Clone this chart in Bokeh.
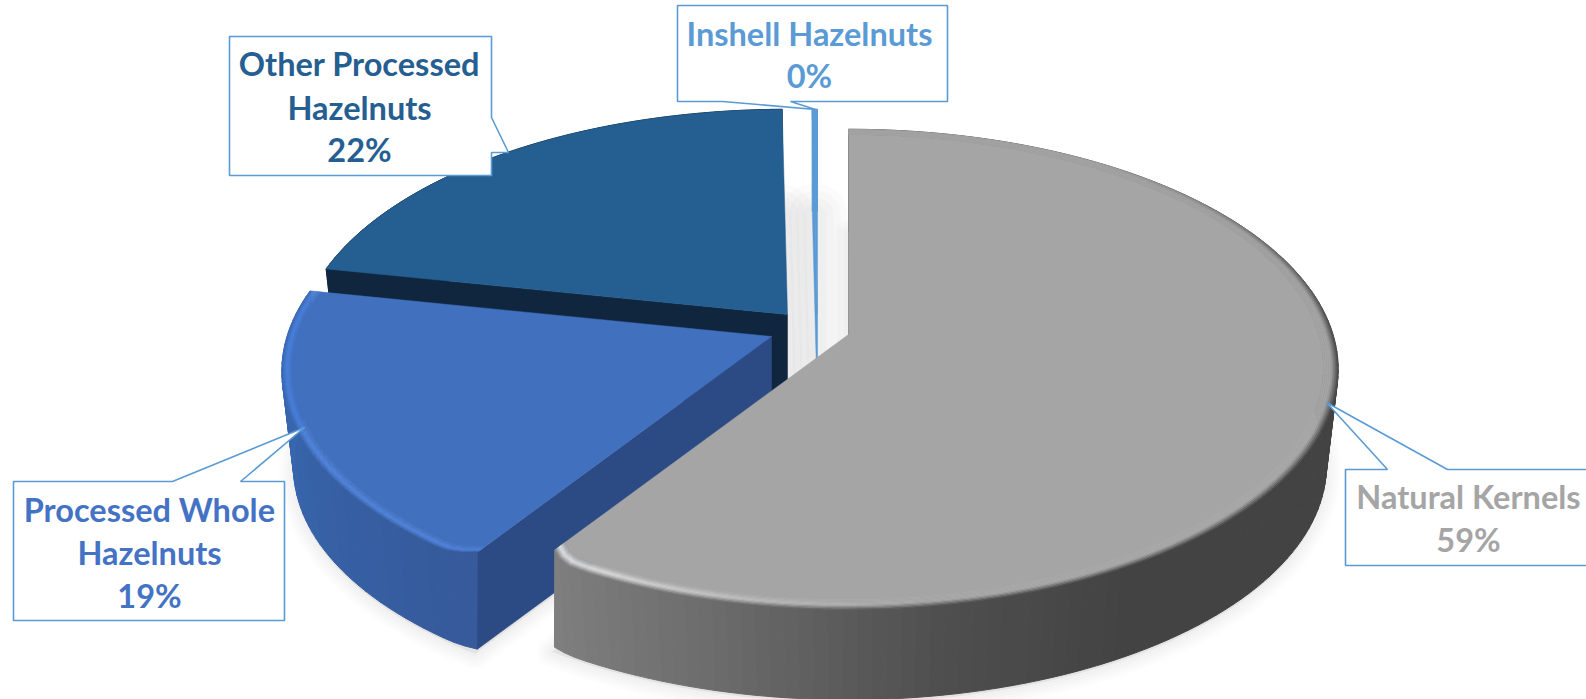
import math
from bokeh.plotting import figure
from bokeh.core.properties import value
from bokeh.embed import file_html
from bokeh.resources import INLINE

# ---- data ----
categories = ["Natural Kernels", "Processed Whole Hazelnuts", "Other Processed Hazelnuts", "Inshell Hazelnuts"]
shares = [59.3, 18.9, 21.6, 0.2]
percent_labels = ["59%", "19%", "22%", "0%"]
label_lines = [["Natural Kernels", "59%"], ["Processed Whole", "Hazelnuts", "19%"],
               ["Other Processed", "Hazelnuts", "22%"], ["Inshell Hazelnuts", "0%"]]

# ---- styles ----
face_colors = ["#a5a5a5", "#4170bf", "#255e91", "#5b9bd5"]
radial_colors = ["#3d3d3d", "#2c4b85", "#10263f", "#5b9bd5"]
text_colors = ["#a5a5a5", "#4472c4", "#255e91", "#5b9bd5"]
BORDER = "#5b9bd5"

# ---- layout of the 3D projection (reference pixels) ----
R, S, K = 484.5, 235.0, 0.145
DEPTH, BOTTOM_SCALE = 97.0, 0.976
centers = [(848, 334), (771, 336), (787, 314), (817, 314)]
rim_widths = [0.03, 0.022, 0.0, 0.0]
callouts = [
    [(1345, 469), (1387, 469), (1326, 402), (1447, 469), (1600, 469), (1600, 565), (1345, 565)],
    [(13, 481), (172, 481), (304, 427), (240, 481), (284, 481), (284, 620), (13, 620)],
    [(229, 36), (491, 36), (491, 117), (508, 152), (491, 152), (491, 175), (229, 175)],
    [(677, 5), (947, 5), (947, 101), (790, 101), (815, 109), (722, 101), (677, 101)],
]
label_pos = [(1468, [496, 539]), (149, [509, 552, 595]), (359, [63, 107, 149]), (809, [33, 75])]

p = figure(width=1586, height=699, x_range=(0, 1586), y_range=(699, 0),
           x_axis_location=None, y_axis_location=None, toolbar_location=None,
           output_backend="svg", min_border=0, outline_line_color=None,
           background_fill_color="white", border_fill_color="white")
p.grid.visible = False

CORNER_DEG, TOP_CUT, BOTTOM_CUT = 4.0, 0.03, 0.008
CORNER_ANGLE = sum(shares[:1]) * 360 / sum(shares)


def pt(c, theta, r=1.0, level=0.0):
    u, v = math.sin(math.radians(theta)) * r, math.cos(math.radians(theta)) * r
    w = 1 + K * v
    s = 1 - (1 - BOTTOM_SCALE) * level
    return c[0] + s * R * u / w, c[1] + DEPTH * level - s * S * v / w


def cut(theta, amount=TOP_CUT):
    """Rounded shoulder of the slice next to the front corner."""
    d = abs(theta - CORNER_ANGLE)
    return 1 - amount * (1 - d / CORNER_DEG) ** 2 if d < CORNER_DEG else 1.0


def hex2(c):
    return [int(c[i:i + 2], 16) for i in (1, 3, 5)]


def mix(a, b, t):
    t = max(0.0, min(1.0, t))
    A, B = hex2(a), hex2(b)
    return "#%02x%02x%02x" % tuple(round(A[i] + (B[i] - A[i]) * t) for i in range(3))


def stops(table, th):
    if th <= table[0][0]:
        return table[0][1]
    for (a, ca), (b, cb) in zip(table, table[1:]):
        if th <= b:
            return mix(ca, cb, (th - a) / (b - a))
    return table[-1][1]


side_tables = [
    [(150, "#434343"), (170, "#4e4e4e"), (196, "#6e6e6e"), (214, "#808080")],
    [(214, "#365a9b"), (260, "#3766ae"), (282, "#3b6ab5")],
    [(282, "#10263f"), (360, "#10263f")],
    [(359, "#5b9bd5"), (360, "#5b9bd5")],
]


def rim_color(i, th, f):
    face = face_colors[i]
    side = stops(side_tables[i], th)
    if i == 0:
        h = 0.75 * max(0.0, (th - 172) / 42.0) ** 1.3
        mid = mix(face, "#ffffff", h)
        d = max(0.0, min(1.0, (th - 35) / 55.0))
        out = mix(face, side, d)
    else:
        mid, out = "#4a80dc", side
    return mix(face, mid, f * 2) if f < 0.5 else mix(mid, out, (f - 0.5) * 2)


angles = []
run = 0.0
total = sum(shares)
for s_ in shares:
    angles.append((run * 360 / total, (run + s_) * 360 / total))
    run += s_


def arc(a, b, step=1.5):
    n = max(2, int(math.ceil((b - a) / step)))
    return [a + (b - a) * j / n for j in range(n + 1)]


# soft ground shadow
for i, (a, b) in enumerate(angles):
    c = centers[i]
    layers = [(60, 0.022), (46, 0.022), (32, 0.022), (18, 0.022)] if i >= 2 else \
             [(30, 0.012), (24, 0.014), (18, 0.016), (12, 0.018), (6, 0.02)]
    for lw, alpha in layers:
        pts = [pt(c, t, 1.0, 1.03) for t in arc(a, b)] + [pt(c, 0, 0.0, 1.03)]
        p.patch([q[0] for q in pts], [q[1] for q in pts], fill_color="#555555", fill_alpha=alpha,
                line_color="#555555", line_alpha=alpha, line_width=lw, line_join="round")

# slices: back ones first
for i in [2, 3, 1, 0]:
    a, b = angles[i]
    c = centers[i]
    th = arc(a, b)
    rnd = cut if i < 2 else (lambda t, amount=0: 1.0)
    # outer wall
    xs, ys, cols = [], [], []
    for t0, t1 in zip(th, th[1:]):
        q = [pt(c, t0, rnd(t0)), pt(c, t1, rnd(t1)),
             pt(c, t1, rnd(t1, BOTTOM_CUT), 1), pt(c, t0, rnd(t0, BOTTOM_CUT), 1)]
        xs.append([e[0] for e in q])
        ys.append([e[1] for e in q])
        cols.append(stops(side_tables[i], (t0 + t1) / 2))
    p.patches(xs, ys, fill_color=cols, line_color=cols, line_width=1.0)
    # face on the slice's starting radius
    q = [pt(c, a, rnd(a)), pt(c, a, 0.0), pt(c, a, 0.0, 1.0), pt(c, a, rnd(a, BOTTOM_CUT), 1.0)]
    p.patch([e[0] for e in q], [e[1] for e in q], fill_color=radial_colors[i], line_color=radial_colors[i], line_width=0.5)
    # bevel
    rw = rim_widths[i]
    if rw > 0:
        xs, ys, cols = [], [], []
        layers = 8
        for k in range(layers):
            r0, r1 = 1 - rw * k / layers, 1 - rw * (k + 1) / layers
            for t0, t1 in zip(th, th[1:]):
                q = [pt(c, t0, r0 * rnd(t0)), pt(c, t1, r0 * rnd(t1)), pt(c, t1, r1 * rnd(t1)), pt(c, t0, r1 * rnd(t0))]
                xs.append([e[0] for e in q])
                ys.append([e[1] for e in q])
                cols.append(rim_color(i, (t0 + t1) / 2, 1 - (k + 0.5) / layers))
        p.patches(xs, ys, fill_color=cols, line_color=cols, line_width=0.6)
    # top face
    q = [pt(c, t, (1 - rw) * rnd(t)) for t in th] + [pt(c, 0, 0.0)]
    p.patch([e[0] for e in q], [e[1] for e in q], fill_color=face_colors[i], line_color=face_colors[i], line_width=0.5)

# call-outs
for i, box in enumerate(callouts):
    p.patch([e[0] for e in box], [e[1] for e in box], fill_color="white", line_color=BORDER, line_width=1.6)
    cx, ys_ = label_pos[i]
    p.text(x=[cx] * len(ys_), y=ys_, text=label_lines[i], text_color=text_colors[i],
           text_font=value("Lato"), text_font_style="bold", text_font_size="32.5px",
           text_align="center", text_baseline="middle")

open("out.html", "w").write(file_html(p, INLINE))
